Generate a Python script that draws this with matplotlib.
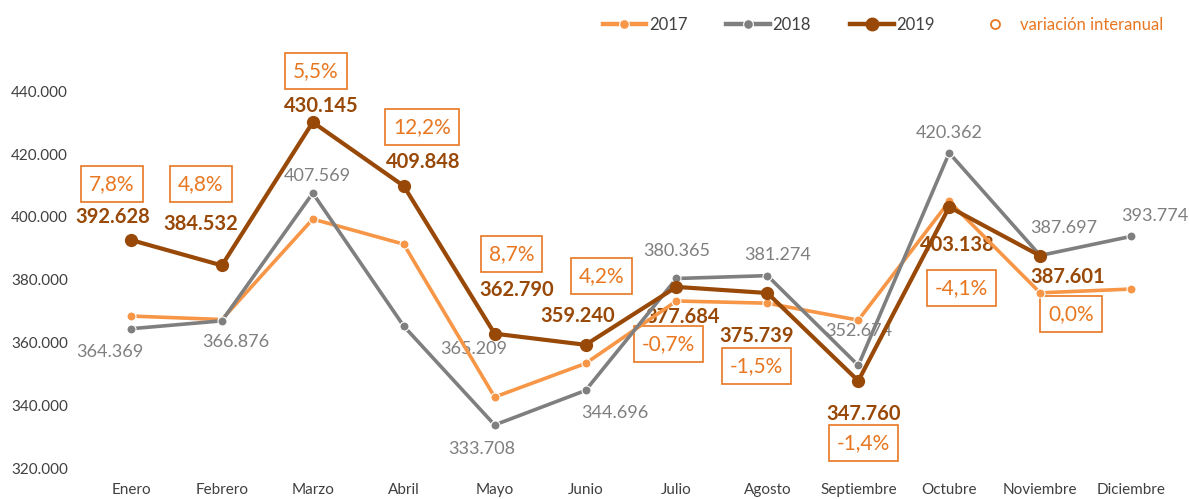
import matplotlib
matplotlib.use("Agg")
import matplotlib.pyplot as plt
from matplotlib.lines import Line2D

plt.rcParams['font.family'] = ['Lato', 'DejaVu Sans']

# datos
meses = ['Enero', 'Febrero', 'Marzo', 'Abril', 'Mayo', 'Junio', 'Julio',
         'Agosto', 'Septiembre', 'Octubre', 'Noviembre', 'Diciembre']
v2017 = [368400, 367300, 399300, 391300, 342600, 353300, 373200,
         372500, 367100, 404900, 375800, 377000]
v2018 = [364369, 366876, 407569, 365209, 333708, 344696, 380365,
         381274, 352674, 420362, 387697, 393774]
v2019 = [392628, 384532, 430145, 409848, 362790, 359240, 377684,
         375739, 347760, 403138, 387601]
variacion = ['7,8%', '4,8%', '5,5%', '12,2%', '8,7%', '4,2%', '-0,7%',
             '-1,5%', '-1,4%', '-4,1%', '0,0%']

# label offsets in pixels (dx, dy), y up
off19 = [(-18, 23), (-21, 41), (8, 16), (19, 24), (22, 44), (-8, 29),
         (6, -30), (-11, -43), (5, -33), (8, -38), (28, -21)]
offpct = [(-19, 56), (-21, 81), (3, 51), (18, 59), (17, 80), (16, 69),
          (-8, -57), (-11, -73), (5, -62), (12, -81), (31, -58)]
off18 = [(-21, -23), (14, -21), (5, 17), (70, -23), (-13, -24), (29, -23),
         (0, 27), (10, 21), (0, 34), (0, 20), (24, 27), (24, 20)]

C17 = '#F79646'
C18 = '#7F7F7F'
C19 = '#984807'
CPCT = '#E87722'
CTXT = '#404040'

fig = plt.figure(figsize=(11.9, 4.99), dpi=100)
ax = fig.add_axes([85.5 / 1190, 31 / 499, 1091 / 1190, 439.5 / 499])

x = list(range(len(meses)))
ax.plot(x, v2017, color=C17, lw=2.6, marker='o', ms=6.5, mec='white', mew=0.8, zorder=3)
ax.plot(x, v2018, color=C18, lw=2.6, marker='o', ms=6.5, mec='white', mew=0.8, zorder=4)
ax.plot(x[:len(v2019)], v2019, color=C19, lw=3, marker='o', ms=8.5, zorder=5)

for i, v in enumerate(v2018):
    ax.annotate(f'{v:,}'.replace(',', '.'), (i, v), xytext=off18[i],
                textcoords='offset pixels', ha='center', va='center',
                fontsize=13, color=C18, zorder=2)

for i, v in enumerate(v2019):
    ax.annotate(f'{v:,}'.replace(',', '.'), (i, v), xytext=off19[i],
                textcoords='offset pixels', ha='center', va='center',
                fontsize=14.5, fontweight='bold', color=C19, zorder=2)
    ax.annotate(variacion[i], (i, v), xytext=offpct[i],
                textcoords='offset pixels', ha='center', va='center',
                fontsize=15, color=CPCT, zorder=2,
                bbox=dict(boxstyle='square,pad=0.38', fc='white', ec=CPCT, lw=1.2))

ax.set_xlim(-0.5, 11.5)
ax.set_ylim(320000, 460000)
ax.set_yticks(range(320000, 440001, 20000))
ax.set_yticklabels([f'{t:,}'.replace(',', '.') for t in range(320000, 440001, 20000)])
ax.set_xticks(x)
ax.set_xticklabels(meses)
ax.tick_params(axis='both', length=0, labelsize=11, colors=CTXT)
ax.tick_params(axis='y', pad=12.5)
ax.tick_params(axis='x', pad=11)
for s in ax.spines.values():
    s.set_visible(False)

handles = [
    Line2D([], [], color=C17, lw=3.2, marker='o', ms=7, mec='white', mew=0.8),
    Line2D([], [], color=C18, lw=3.2, marker='o', ms=7, mec='white', mew=0.8),
    Line2D([], [], color=C19, lw=3.2, marker='o', ms=9),
    Line2D([], [], color='none', marker='o', ms=6.5, mfc='none', mec=CPCT, mew=1.3),
]
leg = fig.legend(handles, ['2017', '2018', '2019', 'variación interanual'],
                 loc='center right', bbox_to_anchor=(0.99, 0.95), ncol=4,
                 frameon=False, fontsize=12, handlelength=2.63,
                 handletextpad=0.15, columnspacing=2.33)
for t in leg.get_texts():
    t.set_color(CTXT)
leg.get_texts()[3].set_color(CPCT)

fig.savefig('out.png', dpi=100)
